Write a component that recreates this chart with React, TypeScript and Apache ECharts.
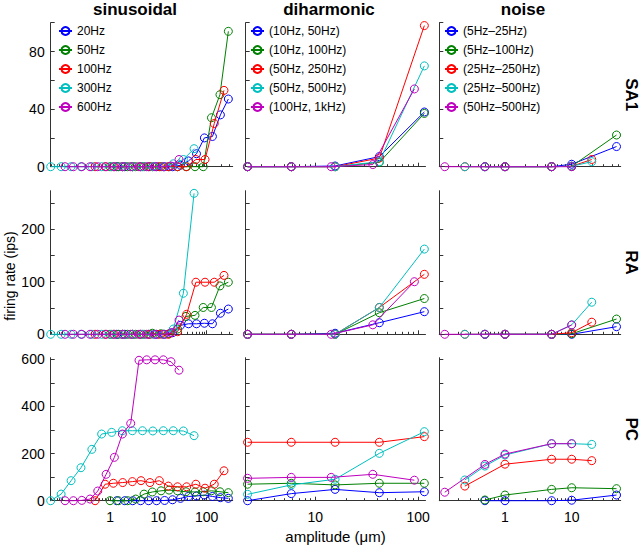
import React, { useEffect, useRef } from 'react';
import * as echarts from 'echarts';

const FONT = '"Liberation Sans", Arial, Helvetica, sans-serif';
const COLORS = ['#0000ff', '#008000', '#ff0000', '#00bfbf', '#bf00bf'];

const columnTitles = ['sinusoidal', 'diharmonic', 'noise'];
const rowLabels = ['SA1', 'RA', 'PC'];
const yAxisTitle = 'firing rate (ips)';
const xAxisTitle = 'amplitude (μm)';

const sinNames = ['20Hz', '50Hz', '100Hz', '300Hz', '600Hz'];
const dhNames = ['(10Hz, 50Hz)', '(10Hz, 100Hz)', '(50Hz, 250Hz)', '(50Hz, 500Hz)', '(100Hz, 1kHz)'];
const nzNames = ['(5Hz–25Hz)', '(5Hz–100Hz)', '(25Hz–250Hz)', '(25Hz–500Hz)', '(50Hz–500Hz)'];

// ---- sinusoidal amplitudes (μm) per frequency
const sinX20 = [1.38, 2.02, 2.95, 4.3, 6.3, 9.2, 13.5, 19.7, 28.8, 42.2, 61.7, 90, 132, 193, 282];
const sinX50 = [1, 1.49, 2.32, 3.4, 5.06, 7.5, 11.4, 16.7, 25, 37.4, 57.5, 85, 126, 189, 282];
const sinX100 = [0.49, 0.79, 1.17, 1.83, 2.9, 4.38, 6.7, 10.5, 16.1, 25, 38.6, 60, 92.7, 144, 229];
const sinX300 = [0.059, 0.097, 0.156, 0.25, 0.42, 0.67, 1.08, 1.8, 2.9, 4.7, 7.7, 12.7, 20.4, 33, 55];
const sinX600 = [0.117, 0.174, 0.26, 0.385, 0.556, 0.83, 1.23, 1.8, 2.68, 3.98, 5.75, 8.55, 12.7, 18.3, 26.8];

// sinusoidal firing rates
const sinSA1_20 = [0, 0, 0, 0, 0, 0, 0, 0, 1, 4, 9, 20, 21, 36, 47];
const sinSA1_50 = [0, 0, 0, 0, 0, 0, 0, 0, 0, 0, 0, 0, 34, 50, 94];
const sinSA1_100 = [0, 0, 0, 0, 0, 0, 0, 0, 0, 0, 0, 5, 5, 30, 53];
const sinSA1_300 = [0, 0, 0, 0, 0, 0, 0, 0, 0, 0, 0, 0, 2, 5, 12.5];
const sinSA1_600 = [0, 0, 0, 0, 0, 0, 0, 0, 0, 0, 0, 0, 0, 0.5, 5];

const sinRA_20 = [0, 0, 0, 0, 0, 0, 0, 3, 17, 20, 20, 21, 20, 40, 48];
const sinRA_50 = [0, 0, 0, 0, 0, 2, 1, 1, 10, 34, 36, 51, 51, 92, 99];
const sinRA_100 = [0, 0, 0, 0, 0, 0, 0, 0, 0, 5, 38, 99, 99, 99, 112];
const sinRA_300 = [0, 0, 0, 0, 0, 0, 0, 0, 0, 0, 0, 0, 10, 78, 268];
const sinRA_600 = [0, 0, 0, 0, 0, 0, 0, 0, 0, 0, 0, 0, 0, 3, 27];

const sinPC_20 = [0, 0, 0, 0, 0, 0, 1, 4, 10, 18, 20, 24, 18, 13, 10];
const sinPC_50 = [0, 0, 0, 7, 28, 37, 42, 45, 42, 38, 37, 38, 42, 38, 34];
const sinPC_100 = [0, 70, 74, 77, 81, 85, 77, 85, 62, 59, 59, 70, 53, 70, 127];
const sinPC_300 = [0, 28, 85, 140, 218, 283, 290, 297, 297, 297, 296, 297, 297, 296, 276];
const sinPC_600 = [0, 0, 1.4, 7, 41, 112, 184, 283, 328, 596, 598, 598, 598, 590, 554];

// ---- diharmonic amplitudes
const dhX = [2.2, 5.85, 15.6, 42, 115];
const dhXLast = [2.2, 5.85, 14.3, 36.3, 92];

const dhSA1_a = [0, 0, 0.5, 7, 38];
const dhSA1_b = [0, 0, 0, 3, 37];
const dhSA1_c = [0, 0, 0, 6, 98];
const dhSA1_d = [0, 0, 0, 3.5, 70];
const dhSA1_e = [0, 0, 0, 1.5, 54];

const dhRA_a = [0, 0, 2, 22, 43];
const dhRA_b = [0, 0, 0, 41, 68];
const dhRA_c = [0, 0, 0, 51, 114];
const dhRA_d = [0, 0, 0, 51, 162];
const dhRA_e = [0, 0, 0, 18, 100];

const dhPC_a = [0, 30, 48, 34, 38];
const dhPC_b = [70, 74, 67, 74, 74];
const dhPC_c = [248, 248, 248, 248, 272];
const dhPC_d = [27, 67, 91, 201, 293];
const dhPC_e = [95, 99, 99, 112, 87];

// ---- noise amplitudes
const nzX25 = [0.5, 1, 5, 10, 47];
const nzX100 = [0.5, 1, 5, 10, 47];
const nzX250 = [0.25, 1, 5, 10, 20];
const nzX500a = [0.25, 0.5, 1, 5, 10, 20];
const nzX500b = [0.125, 0.5, 1, 5, 10];

const nzSA1_a = [0, 0, 0, 1.7, 14];
const nzSA1_b = [0, 0, 0, 0.3, 22];
const nzSA1_c = [0, 0, 0, 0.3, 5];
const nzSA1_d = [0, 0, 0, 0, 0.3, 3.5];
const nzSA1_e = [0, 0, 0, 0, 0];

const nzRA_a = [0, 0, 0, 0, 14.5];
const nzRA_b = [0, 0, 0, 1, 29];
const nzRA_c = [0, 0, 0, 3, 23];
const nzRA_d = [0, 0, 0, 0, 18, 61];
const nzRA_e = [0, 0, 0, 0, 17.7];

const nzPC_a = [0, 0, 0, 2, 24];
const nzPC_b = [3, 24, 48, 55, 51];
const nzPC_c = [62, 155, 176, 176, 170];
const nzPC_d = [88, 147, 194, 242, 242, 239];
const nzPC_e = [36, 154, 198, 242, 242];

// ---- axis ticks
const yMax = [100, 273, 607];
const yTicks = [
  [0, 20, 40, 60, 80, 100],
  [0, 50, 100, 150, 200, 250],
  [0, 100, 200, 300, 400, 500, 600],
];
const yLabels = [
  [0, 40, 80],
  [0, 100, 200],
  [0, 200, 400, 600],
];
const xMin = [0.059, 2.11, 0.1035];
const xMax = [347, 118, 54.3];
const xMajor = [
  [0.1, 1, 10, 100],
  [10, 100],
  [1, 10],
];
const xLabels = [
  [1, 10, 100],
  [10, 100],
  [1, 10],
];
const xMinor = [
  [0.06, 0.07, 0.08, 0.09, 0.2, 0.3, 0.4, 0.5, 0.6, 0.7, 0.8, 0.9, 2, 3, 4, 5, 6, 7, 8, 9, 20, 30, 40, 50, 60, 70, 80, 90, 200, 300],
  [3, 4, 5, 6, 7, 8, 9, 20, 30, 40, 50, 60, 70, 80, 90],
  [0.2, 0.3, 0.4, 0.5, 0.6, 0.7, 0.8, 0.9, 2, 3, 4, 5, 6, 7, 8, 9, 20, 30, 40, 50],
];

// layout (px)
const colLeft = [50.7, 245.7, 439.3];
const colWidth = [182, 179.8, 181.4];
const rowTop = [22.7, 190.7, 357.7];
const rowHeight = [144, 143.6, 143];

function buildOption() {
  const names = [sinNames, dhNames, nzNames];
  const xs = [
    [sinX20, sinX50, sinX100, sinX300, sinX600],
    [dhX, dhX, dhX, dhX, dhXLast],
    [nzX25, nzX100, nzX250, nzX500a, nzX500b],
  ];
  const ys = [
    [
      [sinSA1_20, sinSA1_50, sinSA1_100, sinSA1_300, sinSA1_600],
      [dhSA1_a, dhSA1_b, dhSA1_c, dhSA1_d, dhSA1_e],
      [nzSA1_a, nzSA1_b, nzSA1_c, nzSA1_d, nzSA1_e],
    ],
    [
      [sinRA_20, sinRA_50, sinRA_100, sinRA_300, sinRA_600],
      [dhRA_a, dhRA_b, dhRA_c, dhRA_d, dhRA_e],
      [nzRA_a, nzRA_b, nzRA_c, nzRA_d, nzRA_e],
    ],
    [
      [sinPC_20, sinPC_50, sinPC_100, sinPC_300, sinPC_600],
      [dhPC_a, dhPC_b, dhPC_c, dhPC_d, dhPC_e],
      [nzPC_a, nzPC_b, nzPC_c, nzPC_d, nzPC_e],
    ],
  ];

  const grid: any[] = [];
  const xAxis: any[] = [];
  const yAxis: any[] = [];
  const series: any[] = [];
  const axisColor = '#333';

  for (let r = 0; r < 3; r++) {
    for (let c = 0; c < 3; c++) {
      const gi = r * 3 + c;
      grid.push({ left: colLeft[c], top: rowTop[r], width: colWidth[c], height: rowHeight[r], containLabel: false });
      xAxis.push({
        type: 'log', logBase: 10, gridIndex: gi, position: 'bottom', min: xMin[c], max: xMax[c],
        axisLine: { show: true, onZero: false, lineStyle: { color: axisColor, width: 1 } },
        axisTick: { show: true, inside: true, length: 4, customValues: xMajor[c], lineStyle: { color: axisColor, width: 1 } },
        axisLabel: {
          show: r === 2, customValues: xLabels[c], margin: 9, fontSize: 14, color: '#000', fontFamily: FONT,
          formatter: (v: number) => String(Math.round(v * 1000) / 1000),
        },
        splitLine: { show: false },
        minorTick: { show: false },
      });
      yAxis.push({
        type: 'value', gridIndex: gi, min: 0, max: yMax[r], interval: yTicks[r][1],
        axisLine: { show: true, onZero: false, lineStyle: { color: axisColor, width: 1 } },
        axisTick: { show: true, inside: true, length: 4, customValues: yTicks[r], lineStyle: { color: axisColor, width: 1 } },
        axisLabel: {
          show: c === 0, customValues: yLabels[r], margin: 6, fontSize: 14, color: '#000', fontFamily: FONT,
        },
        splitLine: { show: false },
      });
      for (let k = 0; k < 5; k++) {
        const xv = xs[c][k];
        const yv = ys[r][c][k];
        series.push({
          type: 'line', name: names[c][k], xAxisIndex: gi, yAxisIndex: gi,
          data: xv.map((x: number, i: number) => [x, yv[i]]),
          symbol: 'circle', symbolSize: 8, showSymbol: true, clip: false, silent: true,
          lineStyle: { color: COLORS[k], width: 1 },
          itemStyle: { color: 'rgba(0,0,0,0)', borderColor: COLORS[k], borderWidth: 1 },
          emphasis: { disabled: true },
          z: 2 + k,
        });
      }
    }
  }
  // minor ticks axes
  for (let r = 0; r < 3; r++) {
    for (let c = 0; c < 3; c++) {
      const gi = r * 3 + c;
      xAxis.push({
        type: 'log', logBase: 10, gridIndex: gi, position: 'bottom', min: xMin[c], max: xMax[c],
        axisLine: { show: false, onZero: false },
        axisTick: { show: true, inside: true, length: 2.5, customValues: xMinor[c], lineStyle: { color: axisColor, width: 1 } },
        axisLabel: { show: false },
        splitLine: { show: false },
      });
    }
  }

  const legendLeft = [58, 250, 444];
  const legend = [0, 1, 2].map((c) => ({
    data: names[c],
    orient: 'vertical', left: legendLeft[c], top: 25, padding: 0,
    itemWidth: 13, itemHeight: 10, itemGap: 7,
    selectedMode: false,
    textStyle: { fontSize: 12, lineHeight: 12, color: '#000', fontFamily: FONT },
  }));

  const titleCenters = [135, 329, 523];
  const rowCenters = rowTop.map((t, i) => t + rowHeight[i] / 2);
  const graphic: any[] = [];
  columnTitles.forEach((t, c) => {
    graphic.push({
      type: 'text', x: titleCenters[c], y: 9.5,
      style: { text: t, fill: '#000', font: `bold 17px ${FONT}`, align: 'center', verticalAlign: 'middle' },
    });
  });
  rowLabels.forEach((t, r) => {
    graphic.push({
      type: 'text', x: 631.5, y: rowCenters[r], rotation: -Math.PI / 2,
      style: { text: t, fill: '#000', font: `bold 17px ${FONT}`, align: 'center', verticalAlign: 'middle' },
    });
  });
  graphic.push({
    type: 'text', x: 9.5, y: 276, rotation: Math.PI / 2,
    style: { text: yAxisTitle, fill: '#000', font: `14px ${FONT}`, align: 'center', verticalAlign: 'middle' },
  });
  graphic.push({
    type: 'text', x: 335.5, y: 536,
    style: { text: xAxisTitle, fill: '#000', font: `15px ${FONT}`, align: 'center', verticalAlign: 'middle' },
  });

  return {
    animation: false,
    backgroundColor: '#fff',
    grid, xAxis, yAxis, series, legend, graphic,
  };
}

export default function App() {
  const ref = useRef<HTMLDivElement>(null);
  useEffect(() => {
    const chart = echarts.init(ref.current!, null, { renderer: 'svg' });
    chart.setOption(buildOption() as any);
    return () => chart.dispose();
  }, []);
  return (
    <div
      ref={ref}
      style={{ position: 'fixed', left: 0, top: 0, width: 640, height: 546, background: '#fff' }}
    />
  );
}
